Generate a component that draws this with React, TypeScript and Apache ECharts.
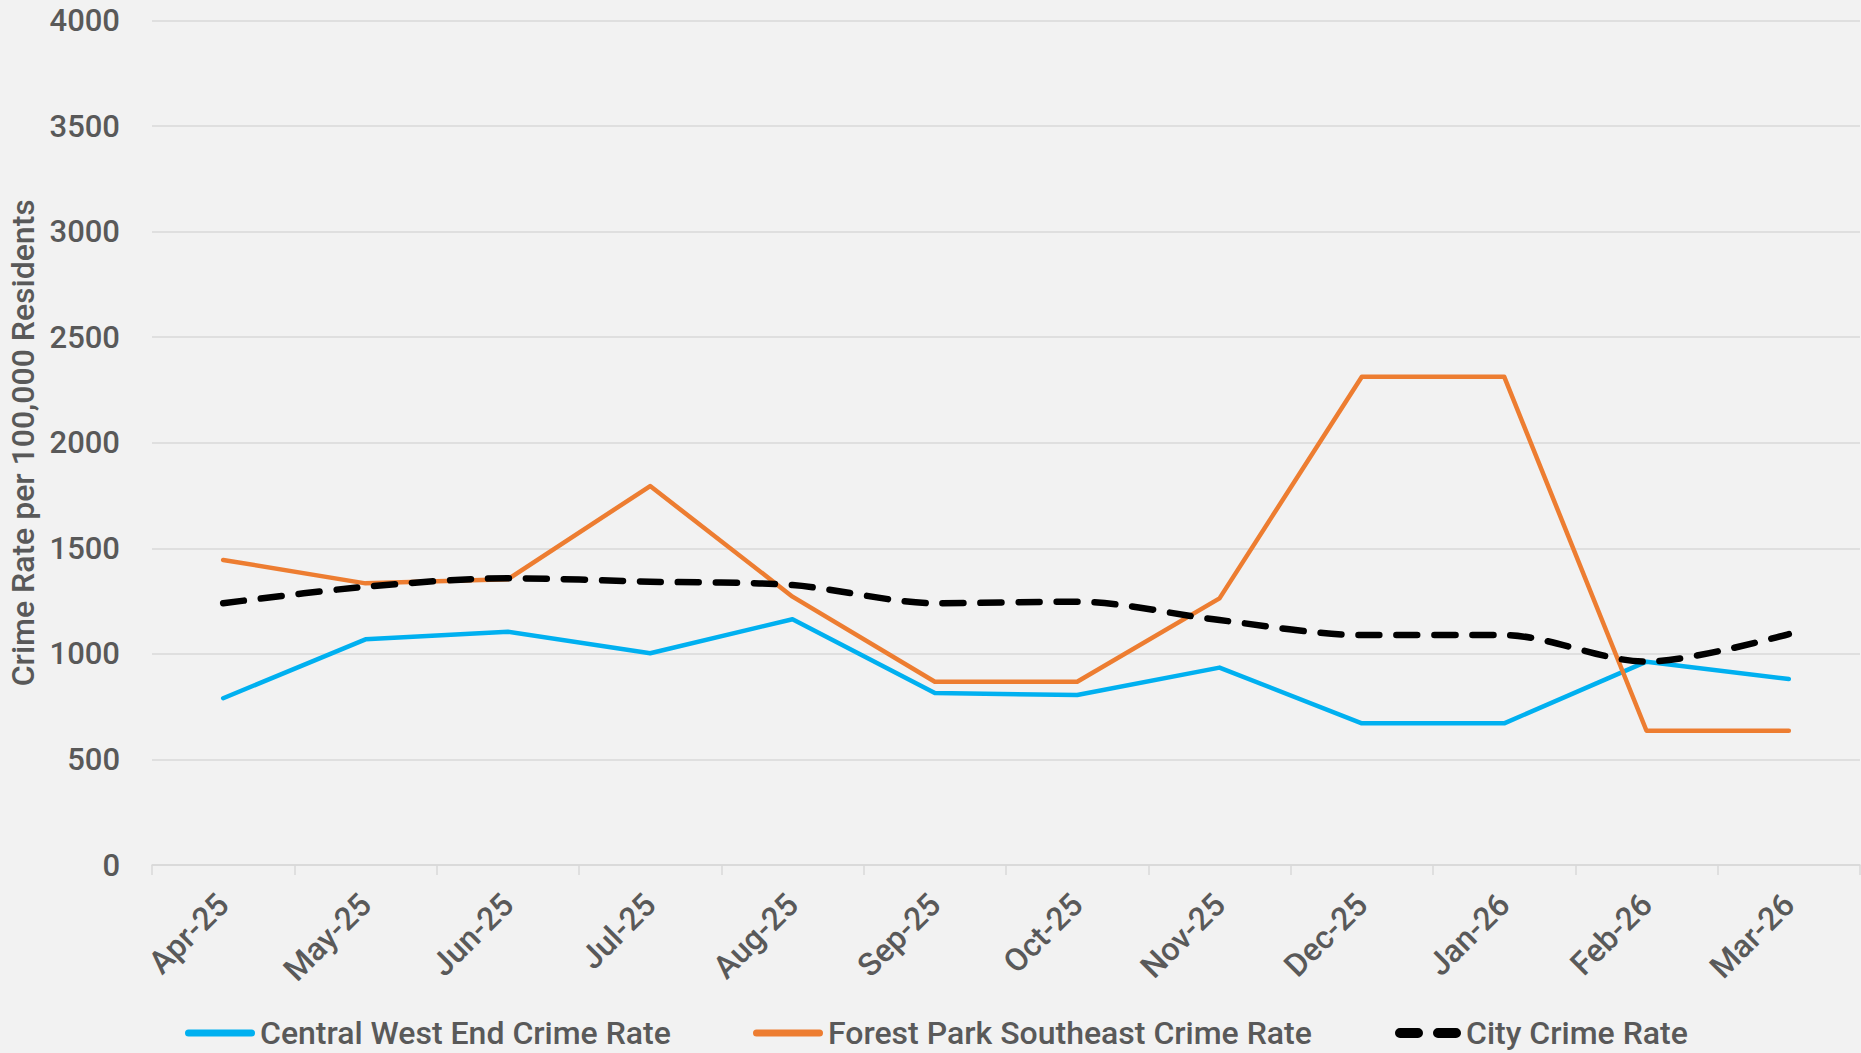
import React, { useEffect, useRef } from "react";
import * as echarts from "echarts";

const categories = ["Apr-25", "May-25", "Jun-25", "Jul-25", "Aug-25", "Sep-25", "Oct-25", "Nov-25", "Dec-25", "Jan-26", "Feb-26", "Mar-26"];
const centralWestEnd = [790, 1069, 1105, 1003, 1164, 815, 805, 935, 671, 671, 963, 881];
const forestParkSE = [1445, 1334, 1353, 1795, 1271, 868, 868, 1263, 2313, 2313, 636, 636];
const cityRate = [1240, 1318, 1358, 1342, 1326, 1240, 1247, 1160, 1089, 1089, 963, 1094];
const yTicks = { min: 0, max: 4000, interval: 500 };
const seriesNames = ["Central West End Crime Rate", "Forest Park Southeast Crime Rate", "City Crime Rate"];

const FONT = "Roboto";
const TEXT = "#595959";
const BLUE = "#00B0F0";
const ORANGE = "#ED7D31";

const solidIcon = "path://M3.5,0H66.5A3.5,3.5 0 0 1 66.5,7H3.5A3.5,3.5 0 0 1 3.5,0Z";
const dashIcon = "path://M5,0H23A5,5 0 0 1 23,10H5A5,5 0 0 1 5,0Z M43,0H61A5,5 0 0 1 61,10H43A5,5 0 0 1 43,0Z";

export default function App() {
  const ref = useRef<HTMLDivElement>(null);
  useEffect(() => {
    if (!ref.current) return;
    const chart = echarts.init(ref.current, null, { renderer: "svg" });
    const legendText = { fontFamily: FONT, fontSize: 32, fontWeight: 500, color: TEXT };
    const mkLegend = (name: string, left: number, icon: string, w: number, h: number) => ({
      top: 1012,
      left,
      itemWidth: w,
      itemHeight: h,
      itemGap: 0,
      icon,
      textStyle: legendText,
      data: [{ name, icon }],
    });
    chart.setOption({
      animation: false,
      backgroundColor: "#F2F2F2",
      textStyle: { fontFamily: FONT },
      grid: { left: 152, right: 1, top: 20.5, bottom: 188, containLabel: false, outerBoundsMode: "none" },
      legend: [
        mkLegend(seriesNames[0], 180, solidIcon, 70, 7),
        mkLegend(seriesNames[1], 748, solidIcon, 70, 7),
        mkLegend(seriesNames[2], 1390, dashIcon, 66, 10),
      ],
      xAxis: {
        type: "category",
        data: categories,
        boundaryGap: true,
        axisLine: { show: true, lineStyle: { color: "#D9D9D9", width: 1.5 } },
        axisTick: { show: true, length: 10, lineStyle: { color: "#D9D9D9", width: 1.5 } },
        axisLabel: { rotate: 45, margin: 34, fontSize: 32, fontWeight: 500, color: TEXT, fontFamily: FONT, interval: 0 },
      },
      yAxis: {
        type: "value",
        min: yTicks.min,
        max: yTicks.max,
        interval: yTicks.interval,
        name: "Crime Rate per 100,000 Residents",
        nameLocation: "middle",
        nameGap: 108,
        nameTextStyle: { fontSize: 32, fontWeight: 500, color: TEXT, fontFamily: FONT },
        axisLine: { show: false },
        axisTick: { show: false },
        splitLine: { lineStyle: { color: "#D9D9D9", width: 1.5 } },
        axisLabel: { fontSize: 31, fontWeight: 500, color: TEXT, fontFamily: FONT, margin: 32, formatter: (v: number) => String(v) },
      },
      series: [
        {
          name: seriesNames[0],
          type: "line",
          data: centralWestEnd,
          showSymbol: false,
          symbol: "none",
          lineStyle: { color: BLUE, width: 4.5, cap: "round", join: "round" },
          itemStyle: { color: BLUE },
        },
        {
          name: seriesNames[1],
          type: "line",
          data: forestParkSE,
          showSymbol: false,
          symbol: "none",
          lineStyle: { color: ORANGE, width: 4.5, cap: "round", join: "round" },
          itemStyle: { color: ORANGE },
        },
        {
          name: seriesNames[2],
          type: "line",
          data: cityRate,
          showSymbol: false,
          symbol: "none",
          smooth: 0.3,
          z: 3,
          lineStyle: { color: "#000000", width: 6.5, type: [21, 17], cap: "round", join: "round" },
          itemStyle: { color: "#000000" },
        },
      ],
    });
    return () => chart.dispose();
  }, []);
  return (
    <div
      ref={ref}
      style={{ position: "fixed", left: 0, top: 0, width: 1861, height: 1053, background: "#F2F2F2" }}
    />
  );
}
